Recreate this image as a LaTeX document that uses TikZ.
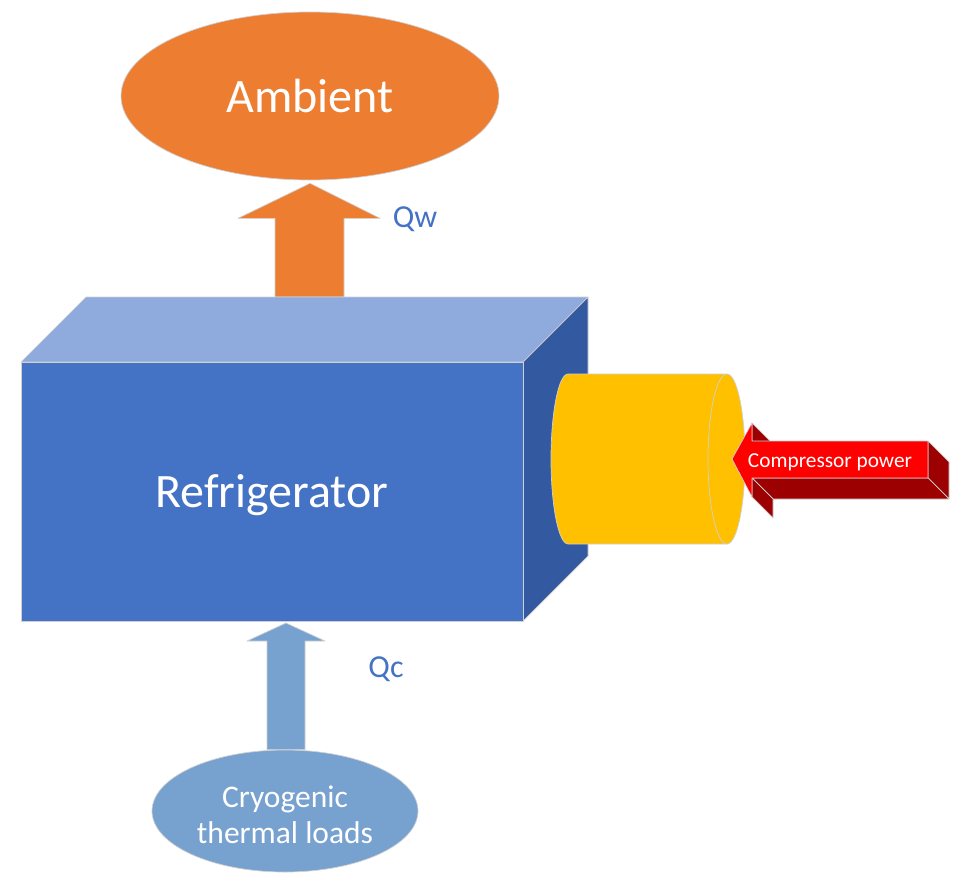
\documentclass[tikz,border=0pt]{standalone}
\usepackage{fontspec}
\setmainfont{Carlito}
\usetikzlibrary{shapes.geometric,calc}
\definecolor{boxfront}{HTML}{4472C4}
\definecolor{boxtop}{HTML}{8FAADC}
\definecolor{boxside}{HTML}{3359A0}
\definecolor{cylc}{HTML}{FFC000}
\definecolor{orangec}{HTML}{ED7D31}
\definecolor{lblue}{HTML}{77A1CF}
\definecolor{redc}{HTML}{FF0000}
\definecolor{dredc}{HTML}{9C0000}
\definecolor{labelc}{HTML}{4472C4}
\definecolor{edgec}{HTML}{D0D0D0}
\begin{document}
\begin{tikzpicture}[x=1pt,y=-1pt,
  edge/.style={draw=edgec,line width=0.7pt,line join=round},
  bigtext/.style={text=white,font=\fontsize{48}{56}\selectfont},
  qlabel/.style={text=labelc,font=\fontsize{32}{38}\selectfont}]
\useasboundingbox (0,0) rectangle (957,872);

% Ambient
\node[ellipse,fill=orangec,edge,minimum width=378pt,minimum height=168pt,inner sep=0pt,bigtext] (amb) at (310,96) {Ambient};

% Qw arrow (box top -> ambient)
\coordinate (wtip) at ($(amb.south)+(0,3)$);
\coordinate (wbase) at (310,297);
\fill[orangec,edge] (wtip) -- ($(wtip)+(70,35)$) -- ($(wtip)+(34,35)$) -- ($(wbase)+(34,0)$)
  -- ($(wbase)+(-35,0)$) -- ($(wtip)+(-35,35)$) -- ($(wtip)+(-72,35)$) -- cycle;
\node[qlabel] (qw) at (415,219) {Qw};

% Cryogenic loads
\node[ellipse,fill=lblue,edge,minimum width=266pt,minimum height=122pt,inner sep=0pt] (cryo) at (285,811) {};
\node[text=white,align=center,font=\fontsize{31.5}{36}\selectfont] (cryotext) at ($(cryo.center)+(0,4)$)
  {Cryogenic\\thermal loads};

% Qc arrow (cryo -> box bottom)
\coordinate (ctip) at (286,623);
\coordinate (cbase) at ($(cryo.north)+(1,0)$);
\fill[lblue,edge] (ctip) -- ($(ctip)+(39,18)$) -- ($(ctip)+(19,18)$) -- ($(cbase)+(19,0)$)
  -- ($(cbase)+(-19,0)$) -- ($(ctip)+(-19,18)$) -- ($(ctip)+(-39,18)$) -- cycle;
\node[qlabel] (qc) at (386,669) {Qc};

% Refrigerator box
\coordinate (f1) at (21,362); \coordinate (f2) at (523,362);
\coordinate (f3) at (523,621); \coordinate (f4) at (21,621);
\coordinate (t1) at (86,297); \coordinate (t2) at (588,297);
\coordinate (s3) at (588,556);
\fill[boxtop,edge] (f1) -- (t1) -- (t2) -- (f2) -- cycle;
\fill[boxside,edge] (f2) -- (t2) -- (s3) -- (f3) -- cycle;
\fill[boxfront,edge] (f1) -- (f2) -- (f3) -- (f4) -- cycle;
\node[bigtext,anchor=base] (refr) at (272,507) {Refrigerator};

% Compressor cylinder
\fill[cylc,edge] (568,374) -- (727,374) arc[start angle=90,end angle=-90,x radius=18pt,y radius=85pt]
  -- (568,544) arc[start angle=270,end angle=90,x radius=17pt,y radius=85pt] -- cycle;
\draw[edge] (727,374) arc[start angle=90,end angle=270,x radius=19pt,y radius=85pt];

% Compressor power arrow (3D)
\coordinate (T) at (732,459);
\coordinate (H1) at (752,423); \coordinate (B1) at (752,441);
\coordinate (B2) at (928,441); \coordinate (B3) at (928,478);
\coordinate (B4) at (752,478); \coordinate (H2) at (752,497);
\fill[dredc,edge] (H1) -- ($(H1)+(21,21)$) -- ($(B1)+(21,21)$) -- (B1) -- cycle;
\fill[dredc,edge] (B2) -- ($(B2)+(21,21)$) -- ($(B3)+(21,21)$) -- (B3) -- cycle;
\fill[dredc,edge] (B4) -- (B3) -- ($(B3)+(21,21)$) -- ($(B4)+(21,21)$) -- cycle;
\fill[dredc,edge] (B4) -- ($(B4)+(21,21)$) -- ($(H2)+(21,21)$) -- (H2) -- cycle;
\fill[redc,edge] (T) -- (H1) -- (B1) -- (B2) -- (B3) -- (B4) -- (H2) -- cycle;
\node[text=white,font=\fontsize{21.3}{25}\selectfont,anchor=base] (comp) at (830,467) {Compressor power};
\end{tikzpicture}
\end{document}
